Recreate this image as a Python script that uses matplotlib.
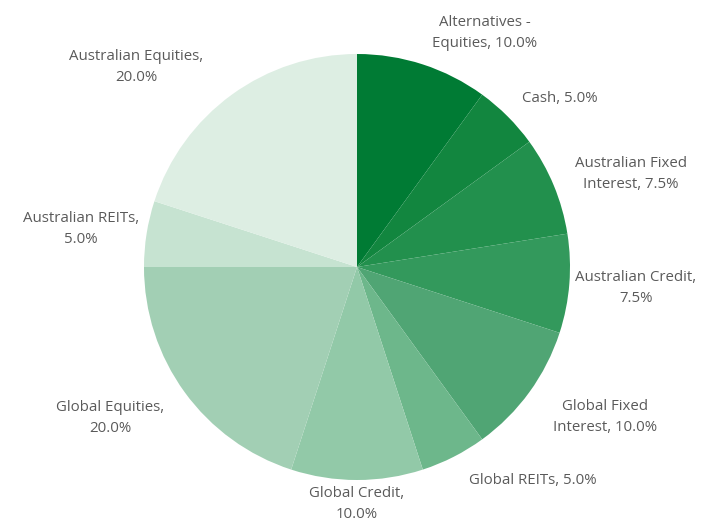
import matplotlib.pyplot as plt

plt.rcParams["font.family"] = ["Open Sans", "DejaVu Sans"]

# Asset allocation (%), clockwise from 12 o'clock
categories = [
    "Alternatives -\nEquities",
    "Cash",
    "Australian Fixed\nInterest",
    "Australian Credit,\n",
    "Global Fixed\nInterest",
    "Global REITs",
    "Global Credit,\n",
    "Global Equities,\n",
    "Australian REITs,\n",
    "Australian Equities,\n",
]
weights = [10.0, 5.0, 7.5, 7.5, 10.0, 5.0, 10.0, 20.0, 5.0, 20.0]
colors = [
    "#007b34", "#12863f", "#22904d", "#33995c", "#50a574",
    "#6db78b", "#92c9a8", "#a2cfb4", "#c6e3d1", "#ddeee3",
]

# label centres in pixel space (x from left, y from top)
label_pos = [
    (485, 33), (560, 99), (631, 174), (636, 288), (605, 417),
    (533, 480), (357, 504), (110, 418), (81, 229), (136, 67),
]

W, H = 712, 526
fig = plt.figure(figsize=(W / 100, H / 100), dpi=100)
ax = fig.add_axes([0, 0, 1, 1])

ax.pie(
    weights,
    colors=colors,
    startangle=90,
    counterclock=False,
    center=(357, H - 267),
    radius=213,
    wedgeprops={"linewidth": 0},
)
ax.set_xlim(0, W)
ax.set_ylim(0, H)
ax.set_aspect("equal")
ax.axis("off")

for name, val, (px, py) in zip(categories, weights, label_pos):
    if name.endswith(",\n"):
        txt = f"{name}{val:.1f}%"
    else:
        txt = f"{name}, {val:.1f}%"
    ax.text(px, H - py, txt, ha="center", va="center", fontsize=10.8,
            color="#5a5a5a", linespacing=1.55)

fig.savefig("out.png", dpi=100)
